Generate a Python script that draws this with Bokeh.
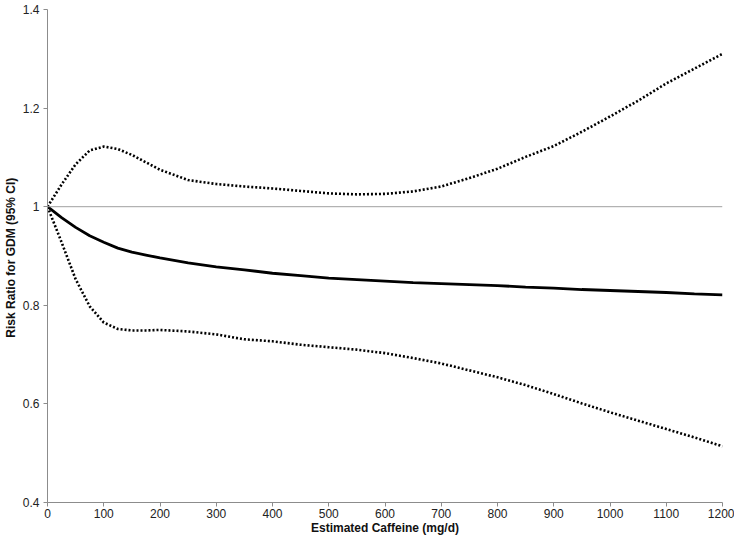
from bokeh.plotting import figure
from bokeh.models import FixedTicker, Span, CustomJSTickFormatter, Range1d
from bokeh.embed import file_html
from bokeh.resources import INLINE

caffeine = [0, 25, 50, 75, 100, 125, 150, 175, 200, 250, 300, 350, 400, 450, 500, 550,
            600, 650, 700, 750, 800, 850, 900, 950, 1000, 1050, 1100, 1150, 1200]
rr = [1.000, 0.978, 0.958, 0.941, 0.928, 0.916, 0.908, 0.902, 0.896, 0.886, 0.878, 0.872,
      0.865, 0.860, 0.855, 0.852, 0.849, 0.846, 0.844, 0.842, 0.840, 0.837, 0.835, 0.832,
      0.830, 0.828, 0.826, 0.823, 0.821]
upper = [1.000, 1.045, 1.086, 1.114, 1.122, 1.117, 1.105, 1.090, 1.075, 1.054, 1.046, 1.041,
         1.037, 1.032, 1.027, 1.025, 1.026, 1.031, 1.041, 1.058, 1.077, 1.101, 1.123, 1.152,
         1.183, 1.215, 1.250, 1.280, 1.310]
lower = [1.000, 0.928, 0.853, 0.798, 0.765, 0.752, 0.749, 0.749, 0.750, 0.747, 0.741, 0.731,
         0.727, 0.720, 0.715, 0.710, 0.703, 0.693, 0.682, 0.668, 0.654, 0.638, 0.620, 0.601,
         0.583, 0.566, 0.549, 0.532, 0.514]
x_ticks = [0, 100, 200, 300, 400, 500, 600, 700, 800, 900, 1000, 1100, 1200]
y_ticks = [0.4, 0.6, 0.8, 1.0, 1.2, 1.4]
reference_rr = 1.0

p = figure(width=734, height=537, output_backend="svg", toolbar_location=None,
           x_range=Range1d(0, 1200), y_range=Range1d(0.4, 1.4),
           min_border_left=45, min_border_right=12, min_border_top=9, min_border_bottom=34)
p.outline_line_color = None
p.xgrid.visible = False
p.ygrid.visible = False

p.add_layout(Span(location=reference_rr, dimension="width", line_color="#a0a0a0", line_width=1))

p.line(caffeine, upper, line_color="black", line_width=2.6, line_dash="2 2")
p.line(caffeine, lower, line_color="black", line_width=2.6, line_dash="2 2")
p.line(caffeine, rr, line_color="black", line_width=2.8)

font = "Liberation Sans"
for ax in (p.xaxis[0], p.yaxis[0]):
    ax.axis_line_color = "#8c8c8c"
    ax.major_tick_line_color = "#8c8c8c"
    ax.minor_tick_line_color = None
    ax.major_tick_in = 0
    ax.major_tick_out = 4
    ax.major_label_text_font = font
    ax.major_label_text_font_size = "12px"
    ax.major_label_text_color = "#222222"
    ax.axis_label_text_font = font
    ax.axis_label_text_font_style = "bold"
    ax.axis_label_text_font_size = "12px"
    ax.axis_label_text_color = "#111111"

p.xaxis.ticker = FixedTicker(ticks=x_ticks)
p.yaxis.ticker = FixedTicker(ticks=y_ticks)
p.yaxis.formatter = CustomJSTickFormatter(code="return (Math.round(tick*10)/10).toString();")
p.xaxis.axis_label = "Estimated Caffeine (mg/d)"
p.yaxis.axis_label = "Risk Ratio for GDM (95%  CI)"
p.xaxis.major_label_standoff = 2
p.xaxis.axis_label_standoff = 0
p.yaxis.major_label_standoff = 4
p.yaxis.axis_label_standoff = 2

open("out.html", "w").write(file_html(p, INLINE))
